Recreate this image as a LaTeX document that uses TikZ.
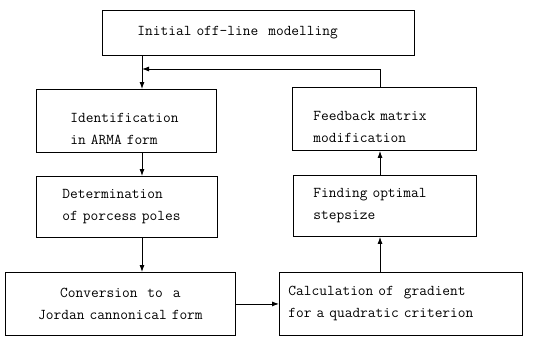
\documentclass[tikz,border=0pt]{standalone}
\usetikzlibrary{arrows.meta}
\tikzset{blk/.style = {draw, rectangle, line width = 0.9pt, anchor = north west, align = left,
    font = \ttfamily\fontsize{15}{22}\selectfont}}
\tikzset{flow/.style = {-{Latex[length = 7pt, width = 5pt]}, line width = 0.9pt}}

\begin{document}
\begin{tikzpicture}[x=1pt, y=-1pt]
    \useasboundingbox (0, 0) rectangle (540, 345);

    \node [blk, minimum width = 312, minimum height = 45, inner xsep = 35, text width = 242] (init) at (102, 10) {Initial off-line\ \ modelling};

    \node [blk, minimum width = 180, minimum height = 63, inner xsep = 34, text width = 112, text depth = 6pt] (ident) at (36, 89) {Identification\\in ARMA form};
    \node [blk, minimum width = 181, minimum height = 61, inner xsep = 26, text width = 129] (determ) at (36, 176) {Determination\\of porcess poles};
    \node [blk, minimum width = 230, minimum height = 63, inner xsep = 5, text width = 220, align = center] (conv) at (5, 272) {Conversion\ \ to\ \ a\\Jordan cannonical form};

    \node [blk, minimum width = 184, minimum height = 63, inner xsep = 21, text width = 142, text depth = 6pt] (fback) at (292, 87) {Feedback matrix\\modification};
    \node [blk, minimum width = 183, minimum height = 61, inner xsep = 20, text width = 143] (find) at (293, 175) {Finding optimal\\stepsize};
    \node [blk, minimum width = 243, minimum height = 63, inner xsep = 9, text width = 225] (calc) at (279, 272) {Calculation of\ \ gradient\\for a quadratic criterion};

    \coordinate (lcol) at (142, 69);
    \coordinate (rcol) at (380, 0);

    \draw [flow] (init.south -| lcol) -- (ident.north -| lcol);
    \draw [flow] (fback.north -| rcol) |- (lcol);
    \draw [flow] (ident.south -| lcol) -- (determ.north -| lcol);
    \draw [flow] (determ.south -| lcol) -- (conv.north -| lcol);
    \draw [flow] (conv.east) -- (calc.west);
    \draw [flow] (calc.north -| rcol) -- (find.south -| rcol);
    \draw [flow] (find.north -| rcol) -- (fback.south -| rcol);
\end{tikzpicture}
\end{document}
